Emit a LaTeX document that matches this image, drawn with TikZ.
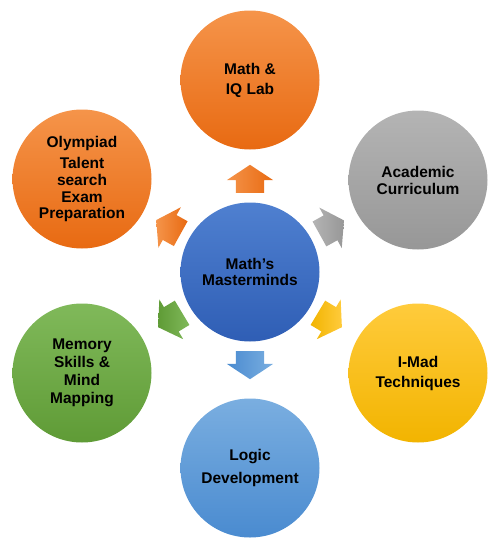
\documentclass[tikz,border=0pt]{standalone}
\usepackage{fontspec}
\setmainfont{Liberation Sans}
\usetikzlibrary{calc,shapes.arrows}
\definecolor{orange_top}{HTML}{F5944A}
\definecolor{orange_bot}{HTML}{E86A12}
\definecolor{gray_top}{HTML}{B4B4B4}
\definecolor{gray_bot}{HTML}{979797}
\definecolor{yellow_top}{HTML}{FFCB3C}
\definecolor{yellow_bot}{HTML}{F2B400}
\definecolor{sky_top}{HTML}{7AAEE0}
\definecolor{sky_bot}{HTML}{4A8BD0}
\definecolor{green_top}{HTML}{80B95A}
\definecolor{green_bot}{HTML}{5F9B36}
\definecolor{hub_top}{HTML}{4F80D0}
\definecolor{hub_bot}{HTML}{2F5EB5}
\tikzset{
    topic/.style = {circle, minimum size=139pt, inner sep=0pt, align=center, text=black,
                    font=\fontsize{15.5}{18}\selectfont\bfseries},
    topic_fill/.style 2 args = {topic, top color=#1, bottom color=#2},
    block_arrow/.style 2 args = {single arrow, minimum height=28pt, inner xsep=0pt, inner ysep=14pt,
                    single arrow head extend=9pt, single arrow tip angle=113, anchor=tail,
                    left color=#1, right color=#2}
}
\begin{document}
\begin{tikzpicture}[x=1pt, y=-1pt]
    \useasboundingbox (0,0) rectangle (502,549);
    \node [topic_fill={hub_top}{hub_bot}] (hub) at (250,272) {Math’s\\[-2pt] Masterminds}; % CENTRE
    \node [topic_fill={orange_top}{orange_bot}] (iqlab) at (250,80) {Math \&\\[2pt] IQ Lab};
    \node [topic_fill={gray_top}{gray_bot}] (academic) at (418,180) {Academic\\[-1pt] Curriculum};
    \node [topic_fill={yellow_top}{yellow_bot}] (imad) at (418,373) {I-Mad\\[2pt] Techniques};
    \node [topic_fill={sky_top}{sky_bot}] (logic) at (250,468) {Logic\\[5pt] Development};
    \node [topic_fill={green_top}{green_bot}] (memory) at (82,373) {Memory\\ Skills \&\\ Mind\\ Mapping};
    \node [topic_fill={orange_top}{orange_bot}] (olympiad) at (82,179)
        {Olympiad\\[3pt] Talent\\[-1pt] search\\[-1pt] Exam\\[-2pt] Preparation};
    % arrows from the centre
    \foreach \target/\ang/\ca/\cb in {iqlab/90/orange_top/orange_bot,
                                     academic/29/gray_top/gray_bot,
                                     imad/-31/yellow_bot/yellow_top,
                                     logic/-90/sky_bot/sky_top,
                                     memory/-149/green_bot/green_top,
                                     olympiad/151/orange_top/orange_bot}
        \node [block_arrow={\ca}{\cb}, rotate=\ang] (arr_\target) at ($(hub)!79pt!(\target)$) {};
\end{tikzpicture}
\end{document}
